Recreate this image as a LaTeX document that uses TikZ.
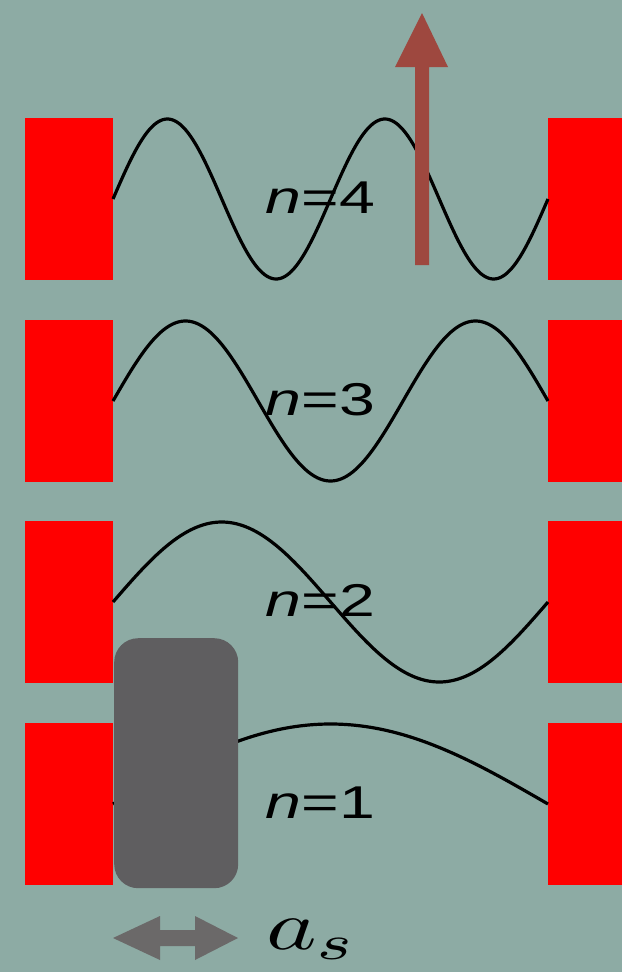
\documentclass[tikz,border=0pt]{standalone}
\usepackage{fontspec}
\setmainfont{Liberation Sans}
\usepackage{graphicx}
\definecolor{bgc}{HTML}{8DABA4}
\definecolor{mirror}{HTML}{FF0000}
\definecolor{slitc}{HTML}{5F5E60}
\definecolor{arrowred}{HTML}{9E483F}
\definecolor{arrowgrey}{HTML}{6B6969}
\begin{document}
\begin{tikzpicture}[x=1pt,y=-1pt,
  mirrorbox/.style={fill=mirror,draw=none,inner sep=0pt,outer sep=0pt,minimum width=88pt,minimum height=162pt,anchor=north west},
  rmirrorbox/.style={fill=mirror,draw=none,inner sep=0pt,outer sep=0pt,minimum width=74pt,minimum height=162pt,anchor=north west},
  wave/.style={line width=3.2pt,black},
  lbl/.style={anchor=base,inner sep=0pt,font=\fontsize{46}{46}\selectfont},
  slitbox/.style={fill=slitc,draw=none,rounded corners=24pt,inner sep=0pt,minimum width=124pt,minimum height=250pt,anchor=north west}]
\fill[bgc] (0,0) rectangle (622,972);
\useasboundingbox (0,0) rectangle (622,972);
% mirrors
\foreach \i/\t in {4/118,3/320,2/521,1/723}{
  \node[mirrorbox] (L\i) at (25,\t) {};
  \node[rmirrorbox] (R\i) at (548,\t) {};
}
% standing waves
\foreach \n/\c in {4/199,3/401,2/602,1/804}{
  \draw[wave] plot[domain=0:435,samples=220,smooth] ({113+\x},{\c-80*sin(\n*0.413793*\x)});
}
% labels
\node[lbl] (t4) at (320.5,213) {\scalebox{1.4}[1]{\textit{n}=4}};
\node[lbl] (t3) at (320.5,415) {\scalebox{1.4}[1]{\textit{n}=3}};
\node[lbl] (t2) at (320.5,616) {\scalebox{1.4}[1]{\textit{n}=2}};
\node[lbl] (t1) at (320.5,818) {\scalebox{1.4}[1]{\textit{n}=1}};
% slit block
\node[slitbox] (slit) at (114,638) {};
% red arrow
\coordinate (rbase) at (422,265);
\coordinate (rtip) at (422,13);
\fill[arrowred] ([xshift=-7pt]rbase) -- ++(0,-198) -- ++(-20,0) -- (rtip) -- (448,67) -- (429,67) -- ([xshift=7pt]rbase) -- cycle;
% grey double arrow
\coordinate (gl) at (113,938);
\coordinate (gr) at (238,938);
\fill[arrowgrey] (gl) -- (160,916) -- (160,930) -- (195,930) -- (195,916) -- (gr) -- (195,960) -- (195,946) -- (160,946) -- (160,960) -- cycle;
\node[anchor=base west,inner sep=0pt] (as) at (266,949) {\scalebox{9.6}[7]{$a_s$}};
\end{tikzpicture}
\end{document}
